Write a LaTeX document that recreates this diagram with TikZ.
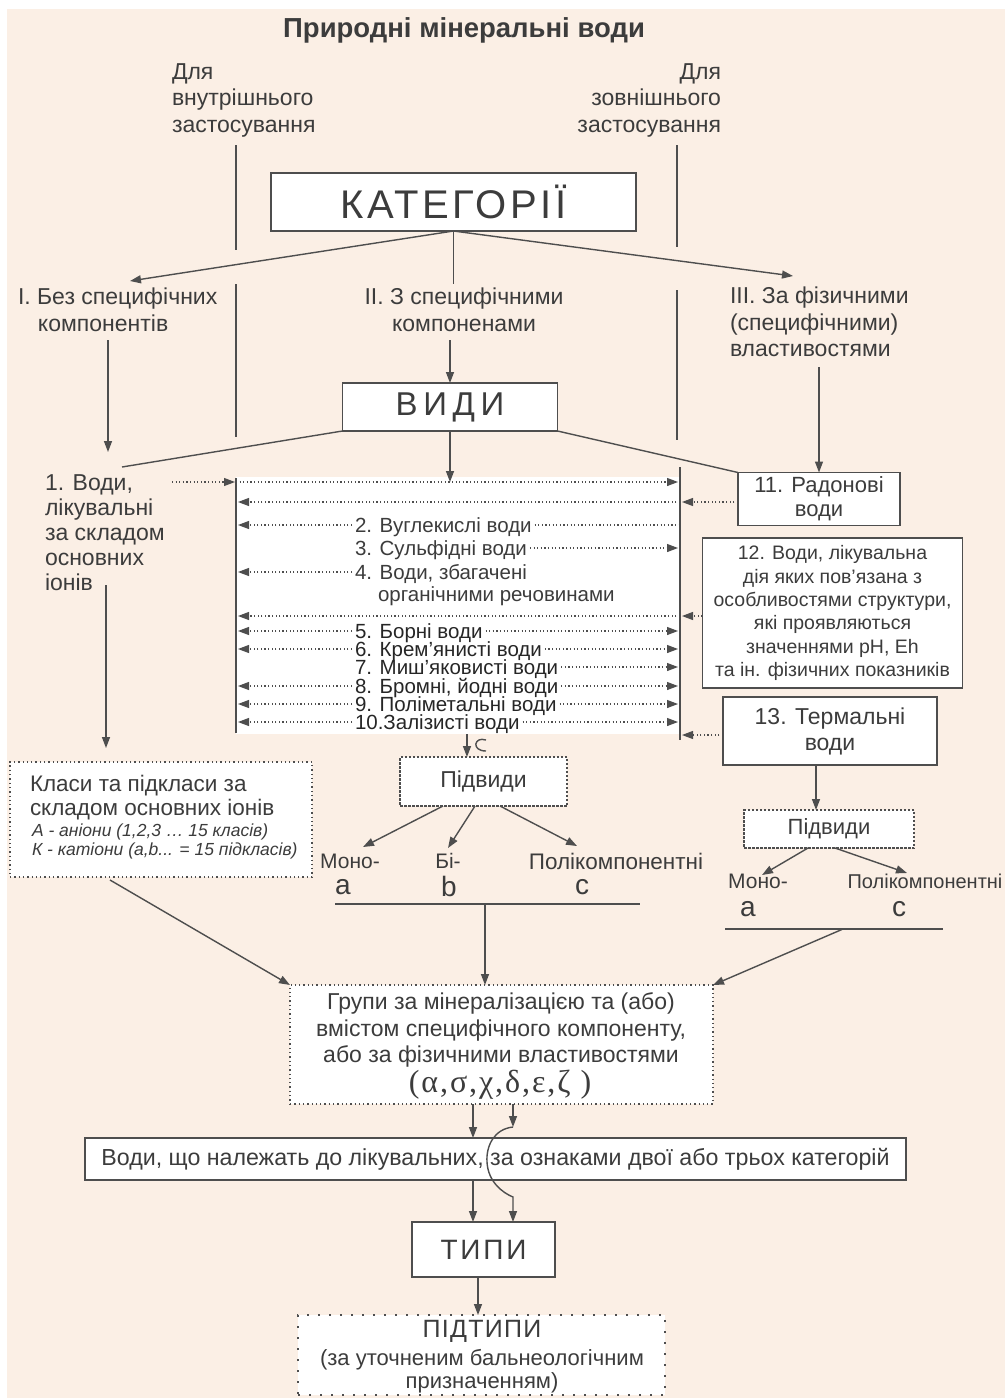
\documentclass[tikz,border=0pt]{standalone}
\usepackage{fontspec}
\setmainfont{Liberation Sans}
\newfontfamily\grk{Liberation Serif}
\usetikzlibrary{arrows.meta}
\definecolor{bgc}{RGB}{251,239,229}
\definecolor{ink}{RGB}{60,60,60}
\definecolor{lc}{RGB}{78,78,78}
\newcommand{\fsz}[2]{\fontsize{#1}{#2}\selectfont}
\begin{document}
\begin{tikzpicture}[x=1pt,y=-1pt,
 every node/.style={text=ink,inner sep=0pt,outer sep=0pt},
 T/.style={font=\fsz{23}{26.5}},
 box/.style={draw=lc,line width=1.5pt,fill=white},
 dbox/.style={draw=lc,line width=1.4pt,dash pattern=on 1.3pt off 3pt,fill=white},
 pbox/.style={draw=lc,line width=1.2pt,dash pattern=on 2.5pt off 1.5pt,fill=white},
 link/.style={draw=lc,line width=1.4pt},
 tip/.style={-{Triangle[length=11pt,width=8pt]}},
 arr/.style={link,tip},
 dl/.style={draw=lc,line width=1.1pt,dash pattern=on 1.2pt off 2.4pt},
 darr/.style={dl,tip},
 item/.style={font=\fsz{20.5}{20},text height=14pt,text depth=0pt,anchor=west,inner xsep=3pt},
 boldi/.style={item,text=black!85},
 lbl/.style={font=\fsz{21}{21}},
 big/.style={font=\fsz{28}{28}},
]
\fill[white] (0,0) rectangle (1005,1398);
\fill[bgc] (7,9) rectangle (1005,1398);
\useasboundingbox (0,0) rectangle (1005,1398);

% title and side labels
\node[font=\bfseries\fsz{27.5}{27.5}] (title) at (464,30) {Природні мінеральні води};
\node[T,align=left,anchor=west] (din) at (172,100) {Для\\внутрішнього\\застосування};
\node[T,align=right,anchor=east] (dout) at (721,100) {Для\\зовнішнього\\застосування};

\coordinate (la1) at (236,145); \coordinate (la2) at (236,250);
\coordinate (lb1) at (236,284); \coordinate (lb2) at (236,437);
\coordinate (ra1) at (677,145); \coordinate (ra2) at (677,247);
\coordinate (rb1) at (677,290); \coordinate (rb2) at (677,440);
\draw[link,line width=1.2pt] (la1)--(la2) (lb1)--(lb2) (ra1)--(ra2) (rb1)--(rb2);

% categories
\node[box,minimum width=365pt,minimum height=58pt,font=\fsz{40}{40}\addfontfeatures{LetterSpace=9}] (kat) at (453.5,202) {КАТЕГОРІЇ};
\node[T,align=left,anchor=west] (c1) at (18,310) {I. Без специфічних\\\hspace*{20pt}компонентів};
\node[T,align=center] (c2) at (464,310) {II. З специфічними\\компоненами};
\node[T,align=left,anchor=west] (c3) at (730,322) {III. За фізичними\\(специфічними)\\властивостями};

\coordinate (c1tip) at (130,281);
\coordinate (c2end) at (453.5,284);
\coordinate (c3tip) at (793,276);
\draw[arr] (kat.south) -- (c1tip);
\draw[link] (kat.south) -- (c2end);
\draw[arr] (kat.south) -- (c3tip);

% kinds
\node[box,minimum width=215pt,minimum height=48pt,font=\fsz{33}{33}\addfontfeatures{LetterSpace=17}] (vidy) at (450,407) {ВИДИ};
\coordinate (c2dn) at (450,340);
\draw[arr] (c2dn) -- (vidy.north);
\coordinate (c1dn) at (108,340); \coordinate (c1end) at (108,452);
\draw[arr] (c1dn) -- (c1end);

\node[box,minimum width=162pt,minimum height=53pt,font=\fsz{22}{24},align=center] (b11) at (819,499) {11. Радонові\\води};
\node[box,minimum width=260pt,minimum height=150pt,font=\fsz{19.5}{23.3},align=center] (b12) at (832.5,613) {12. Води, лікувальна\\дія яких пов’язана з\\особливостями структури,\\які проявляються\\значеннями pH, Eh\\та ін. фізичних показників};
\node[box,minimum width=214pt,minimum height=68pt,font=\fsz{23}{26},align=center] (b13) at (830,731) {13. Термальні\\води};
\coordinate (c3dn) at (819,367);
\draw[arr] (c3dn) -- (b11.north);

% list area
\fill[white] (236,477) rectangle (680,734);
\coordinate (L1) at (236,478); \coordinate (L2) at (236,733);
\coordinate (R1) at (680,467); \coordinate (R2) at (680,740);
\draw[link] (L1)--(L2); \draw[link] (R1)--(R2);
\coordinate (LxO) at (235,0); \coordinate (LxI) at (238,0);
\coordinate (Lx) at (236,0); \coordinate (Rx) at (680,0);
\coordinate (RxI) at (678,0); \coordinate (RxO) at (682,0);

\node[font=\fsz{23}{25},align=left,anchor=west] (w1) at (45,533) {1. Води,\\лікувальні\\за складом\\основних\\іонів};
\coordinate (w1top) at (122,467);
\draw[link] (vidy.south west) -- (w1top);
\draw[link] (vidy.south east) -- (b11.north west);

% row 0
\coordinate (r0a) at (172,482);
\draw[darr] (r0a) -- (r0a -| LxO);
\draw[darr] (r0a -| Lx) -- (r0a -| RxI);
\draw[arr] (vidy.south) -- (vidy.south |- r0a);
% row 1
\coordinate (r1y) at (0,502);
\draw[darr] (b11.west |- r1y) -- (r1y -| RxO);
\draw[darr] (r1y -| Rx) -- (r1y -| LxI);
% items
\node[item] (r2) at (352,525) {2. Вуглекислі води};
\draw[darr] (r2.west) -- (r2.west -| LxI);
\draw[dl] (r2.east) -- (r2.east -| Rx);
\node[item] (r3) at (352,548) {3. Сульфідні води};
\draw[darr] (r3.east) -- (r3.east -| RxI);
\node[item] (r4) at (352,572) {4. Води, збагачені};
\draw[darr] (r4.west) -- (r4.west -| LxI);
\node[item] (r4b) at (375,594) {органічними речовинами};
% row 5
\coordinate (r5y) at (0,616);
\draw[darr] (b12.west |- r5y) -- (r5y -| RxO);
\draw[darr] (r5y -| Rx) -- (r5y -| LxI);
\node[boldi] (r6) at (352,631) {5. Борні води};
\draw[darr] (r6.west) -- (r6.west -| LxI);
\draw[darr] (r6.east) -- (r6.east -| RxI);
\node[boldi] (r7) at (352,649) {6. Крем’янисті води};
\draw[darr] (r7.west) -- (r7.west -| LxI);
\draw[darr] (r7.east) -- (r7.east -| RxI);
\node[boldi] (r8) at (352,667) {7. Миш’яковисті води};
\draw[darr] (r8.east) -- (r8.east -| RxI);
\node[boldi] (r9) at (352,686) {8. Бромні, йодні води};
\draw[darr] (r9.west) -- (r9.west -| LxI);
\draw[darr] (r9.east) -- (r9.east -| RxI);
\node[boldi] (r10) at (352,704) {9. Поліметальні води};
\draw[darr] (r10.west) -- (r10.west -| LxI);
\draw[darr] (r10.east) -- (r10.east -| RxI);
\node[boldi] (r11) at (352,722) {10.Залізисті води};
\draw[darr] (r11.west) -- (r11.west -| LxI);
\draw[darr] (r11.east) -- (r11.east -| RxI);
% row 12
\coordinate (r12y) at (0,735);
\draw[darr] (b13.west |- r12y) -- (r12y -| RxO);

% subkinds middle
\node[pbox,minimum width=167pt,minimum height=49pt,font=\fsz{23}{23}] (podv1) at (483.5,781.5) {Підвиди};
\coordinate (lsb) at (467,734);
\draw[arr] (lsb) -- (lsb |- podv1.north);
\coordinate (cu1) at (486,740); \coordinate (cu2) at (486,751);
\draw[link] (cu1) .. controls (474,736) and (471,751) .. (cu2);

\node[lbl] (mono1) at (350,861) {Моно-};
\node[big] (a1) at (343,887) {a};
\node[lbl] (bi1) at (448,861) {Бі-};
\node[big] (b1) at (449,886) {b};
\node[font=\fsz{22.5}{22}] (poly1) at (616,861) {Полікомпонентні};
\node[big] (cc1) at (582,887) {c};
\coordinate (p1a) at (443,806); \coordinate (p1at) at (363,847);
\coordinate (p1b) at (475,806); \coordinate (p1bt) at (448,848);
\coordinate (p1c) at (500,806); \coordinate (p1ct) at (577,846);
\draw[arr] (p1a) -- (p1at);
\draw[arr] (p1b) -- (p1bt);
\draw[arr] (p1c) -- (p1ct);
\coordinate (u1a) at (335,904); \coordinate (u1b) at (640,904); \coordinate (u1m) at (485,904);
\draw[link,line width=1.2pt] (u1a) -- (u1b);

% subkinds right
\node[pbox,minimum width=170pt,minimum height=38pt,font=\fsz{22}{22}] (podv2) at (829,829) {Підвиди};
\coordinate (xr) at (816,0);
\draw[arr] (b13.south -| xr) -- (podv2.north -| xr);
\node[lbl] (mono2) at (758,881) {Моно-};
\node[big] (a2) at (748,909) {a};
\node[font=\fsz{20}{20}] (poly2) at (925,881) {Полікомпонентні};
\node[big] (cc2) at (899,909) {c};
\coordinate (p2a) at (808,848); \coordinate (p2at) at (762,875);
\coordinate (p2b) at (835,848); \coordinate (p2bt) at (907,873);
\draw[arr] (p2a) -- (p2at);
\draw[arr] (p2b) -- (p2bt);
\coordinate (u2a) at (725,929); \coordinate (u2b) at (943,929); \coordinate (u2m) at (843,929);
\draw[link,line width=1.2pt] (u2a) -- (u2b);

% classes
\node[dbox,minimum width=302pt,minimum height=115pt] (klasy) at (161,819.5) {};
\node[font=\fsz{22.5}{24},align=left,anchor=north west] (kl1) at (30,775) {Класи та підкласи за\\складом основних іонів};
\node[font=\itshape\fsz{17.5}{19},align=left,anchor=north west] (kl2) at (32,824) {А - аніони (1,2,3 … 15 класів)\\К - катіони (a,b... = 15 підкласів)};
\coordinate (w1dn) at (106,585); \coordinate (w1end) at (106,748);
\draw[arr] (w1dn) -- (w1end);

% groups
\node[dbox,minimum width=423pt,minimum height=119pt] (grupy) at (501.5,1044.5) {};
\node[font=\fsz{23}{26.5},align=center] (gtxt) at (501,1030) {Групи за мінералізацією та (або)\\вмістом специфічного компоненту,\\або за фізичними властивостями};
\node[font=\grk\fsz{32}{32}\addfontfeatures{LetterSpace=6}] (greek) at (500,1085) {(α,σ,χ,δ,ε,ζ )};
\coordinate (kla) at (110,880);
\draw[arr] (kla) -- (grupy.north west);
\draw[arr] (u1m) -- (u1m |- grupy.north);
\draw[arr] (u2m) -- (grupy.north east);

% waters
\node[box,minimum width=821pt,minimum height=42pt,font=\fsz{23.2}{23}] (vody) at (495.5,1159) {Води, що належать до лікувальних, за ознаками двої або трьох категорій};
\node[box,minimum width=143pt,minimum height=55pt,font=\fsz{28}{28}\addfontfeatures{LetterSpace=10}] (tipy) at (483.5,1249.5) {ТИПИ};
\node[draw=lc,line width=2.2pt,dash pattern=on 2pt off 9pt,fill=white,minimum width=367pt,minimum height=80pt] (pidt) at (481.5,1355) {};
\node[font=\fsz{25}{25}\addfontfeatures{LetterSpace=5}] (pt1) at (482,1331) {ПІДТИПИ};
\node[font=\fsz{22}{23},align=center] (pt2) at (482,1371) {(за уточненим бальнеологічним\\призначенням)};

\coordinate (xA) at (473,0); \coordinate (xB) at (513,0); \coordinate (xT) at (478,0);
\coordinate (crv1) at (513,1127); \coordinate (crv2) at (513,1197);
\draw[arr] (grupy.south -| xA) -- (vody.north -| xA);
\draw[arr] (grupy.south -| xB) -- (crv1);
\draw[arr] (crv1) .. controls (494,1129) and (486,1146) .. (487,1162) .. controls (488,1182) and (503,1193) .. (crv2) -- (tipy.north -| xB);
\draw[arr] (vody.south -| xA) -- (tipy.north -| xA);
\draw[arr] (tipy.south -| xT) -- (pidt.north -| xT);
\end{tikzpicture}
\end{document}
